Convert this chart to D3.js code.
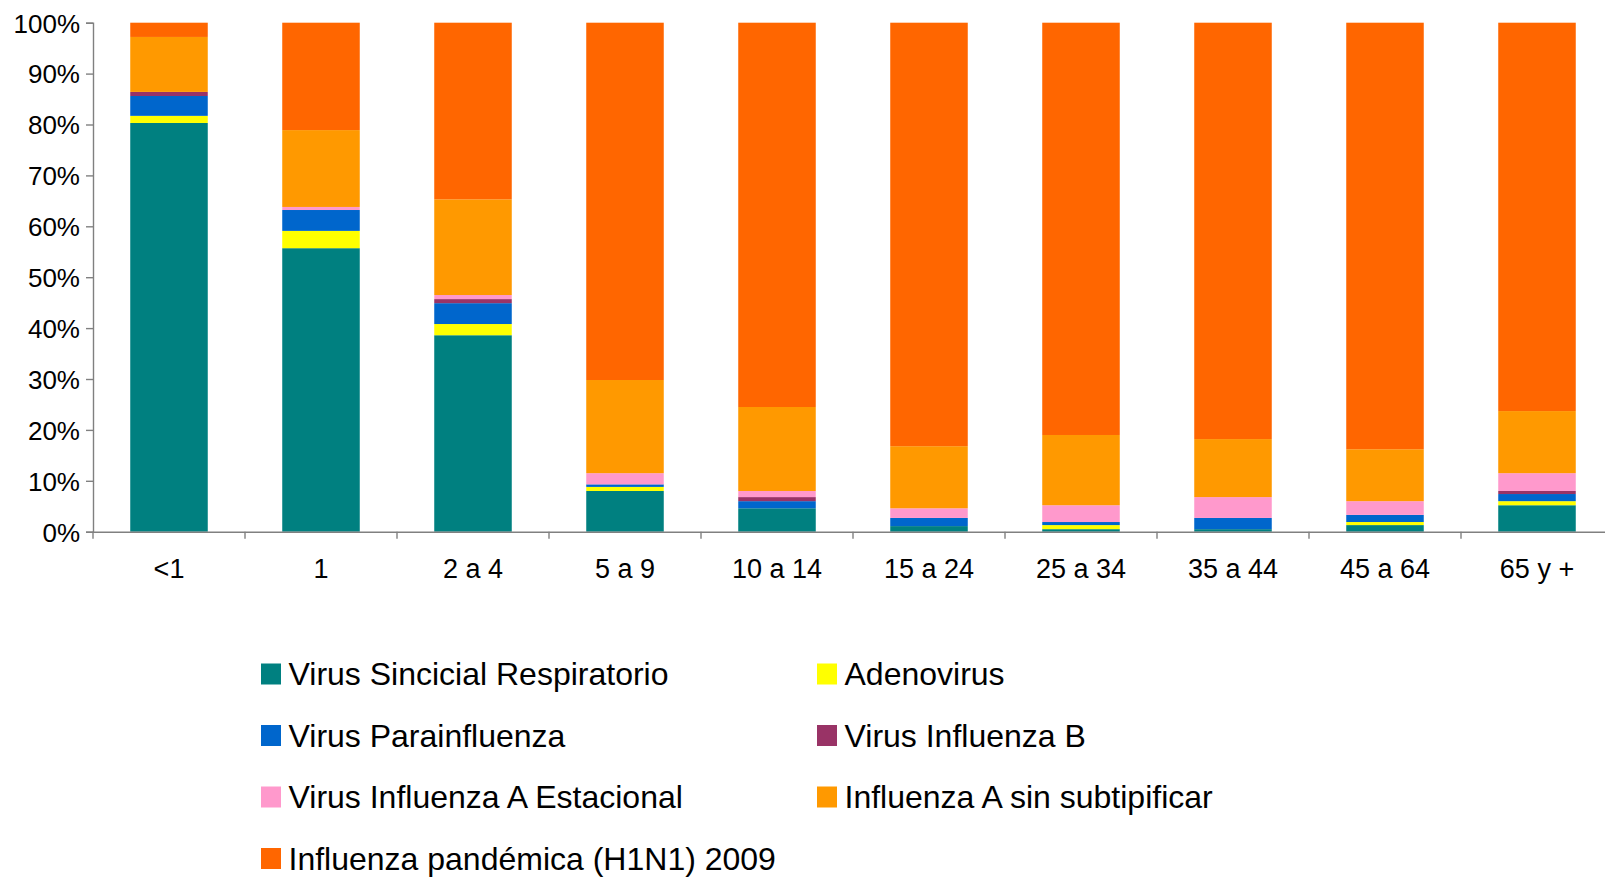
<!DOCTYPE html>
<html>
<head>
<meta charset="utf-8">
<script src="https://cdn.jsdelivr.net/npm/d3@7"></script>
<style>
  html, body { margin: 0; padding: 0; background: #fff; }
  svg { display: block; font-family: "Liberation Sans", Arial, sans-serif; }
</style>
</head>
<body>
<svg id="chart" width="1605" height="877"></svg>
<script>
const categories = ["<1", "1", "2 a 4", "5 a 9", "10 a 14", "15 a 24", "25 a 34", "35 a 44", "45 a 64", "65 y +"];
const seriesNames = [
  "Virus Sincicial Respiratorio",
  "Adenovirus",
  "Virus Parainfluenza",
  "Virus Influenza B",
  "Virus Influenza A Estacional",
  "Influenza A sin subtipificar",
  "Influenza pandémica (H1N1) 2009"
];
const seriesColors = ["#008080", "#FFFF00", "#0066CC", "#993366", "#FF99CC", "#FF9900", "#FF6600"];

// percentages per age group (bottom to top)
const vsr            = [80.3, 55.7, 38.6,  8.0,  4.6,  1.1,  0.5,  0.5,  1.3,  5.2];
const adenovirus     = [ 1.4,  3.4,  2.2,  0.8,  0.0,  0.0,  0.8,  0.0,  0.6,  0.8];
const parainfluenza  = [ 3.9,  4.1,  4.1,  0.5,  1.4,  1.6,  0.6,  2.2,  1.4,  1.4];
const influenzaB     = [ 0.8,  0.0,  0.8,  0.0,  0.8,  0.0,  0.0,  0.0,  0.0,  0.6];
const influenzaAEst  = [ 0.0,  0.6,  0.8,  2.2,  1.2,  1.9,  3.3,  4.1,  2.7,  3.5];
const influenzaASin  = [10.8, 15.1, 18.8, 18.3, 16.5, 12.2, 13.8, 11.4, 10.2, 12.2];
const pandemica      = [ 2.8, 21.1, 34.7, 70.2, 75.5, 83.2, 81.0, 81.8, 83.8, 76.3];

const yTicks = [0, 0.1, 0.2, 0.3, 0.4, 0.5, 0.6, 0.7, 0.8, 0.9, 1.0];

const seriesValues = [vsr, adenovirus, parainfluenza, influenzaB, influenzaAEst, influenzaASin, pandemica];
const table = categories.map((c, i) => {
  const row = { cat: c };
  seriesNames.forEach((s, j) => { row[s] = seriesValues[j][i]; });
  return row;
});

const svg = d3.select("#chart");
const x0 = 93, x1 = 1613, yTop = 22.7, yBot = 531.7;

const x = d3.scaleBand().domain(categories).range([x0, x1]).paddingInner(0.49).paddingOuter(0.245);
const y = d3.scaleLinear().domain([0, 1]).range([yBot, yTop]);
const color = d3.scaleOrdinal().domain(seriesNames).range(seriesColors);

const stack = d3.stack().keys(seriesNames).offset(d3.stackOffsetExpand);
const layers = stack(table);

svg.append("g")
  .selectAll("g")
  .data(layers)
  .join("g")
  .attr("fill", d => color(d.key))
  .selectAll("rect")
  .data(d => d)
  .join("rect")
  .attr("x", d => x(d.data.cat))
  .attr("width", x.bandwidth())
  .attr("y", d => y(d[1]))
  .attr("height", d => Math.max(0, y(d[0]) - y(d[1])));

// Y axis
const yAxis = d3.axisLeft(y).tickValues(yTicks).tickFormat(d3.format(".0%")).tickSize(7).tickPadding(6);
const gy = svg.append("g").attr("transform", `translate(${x0},0)`).call(yAxis);
gy.select(".domain").attr("stroke", "#808080").attr("stroke-width", 1.4);
gy.selectAll(".tick line").attr("stroke", "#808080").attr("stroke-width", 1.4);
gy.selectAll(".tick text").attr("fill", "#000").style("font-size", "26px").attr("dy", "0.36em");

// X axis (labels)
const xAxis = d3.axisBottom(x).tickSize(0).tickPadding(0);
const gx = svg.append("g").attr("transform", `translate(0,${yBot})`).call(xAxis);
gx.select(".domain").attr("stroke", "#808080").attr("stroke-width", 1.4);
gx.selectAll(".tick text").attr("fill", "#000").style("font-size", "27px").attr("y", 46).attr("dy", 0);

// X separator ticks between categories
const step = x.step();
const sepPositions = categories.map(c => x(c) + x.bandwidth() / 2 - step / 2).concat([x(categories[categories.length - 1]) + x.bandwidth() / 2 + step / 2]);
svg.append("g").selectAll("line").data(sepPositions).join("line")
  .attr("x1", d => d).attr("x2", d => d)
  .attr("y1", yBot).attr("y2", yBot + 7)
  .attr("stroke", "#808080").attr("stroke-width", 1.4);

// Legend
const legendCols = [261, 817];
const legendRows = [674, 735.5, 797, 858.5];
const legend = svg.append("g").selectAll("g").data(seriesNames).join("g")
  .attr("transform", (d, i) => `translate(${legendCols[i % 2]},${legendRows[Math.floor(i / 2)]})`);
legend.append("rect").attr("x", 0).attr("y", -10.5).attr("width", 20).attr("height", 21).attr("fill", d => color(d));
legend.append("text").attr("x", 27.5).attr("y", 11).style("font-size", "32px").attr("fill", "#000").text(d => d);
</script>
</body>
</html>
